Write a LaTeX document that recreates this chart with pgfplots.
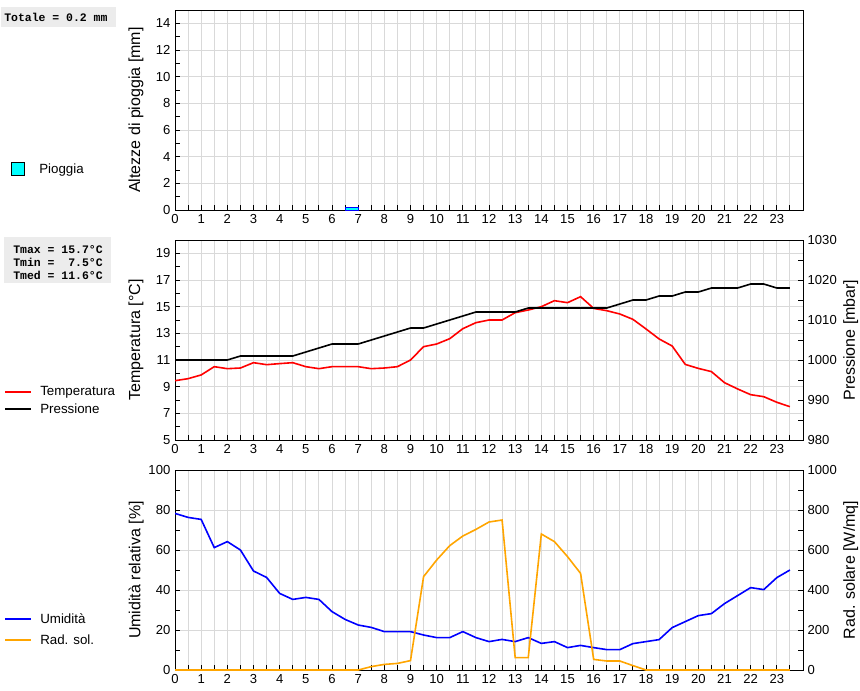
\documentclass[border=0pt]{standalone}
\usepackage{pgfplots}
\usepackage{pgfplotstable}
\pgfplotsset{compat=1.18}
\usepackage{fontspec}
\setmainfont{Liberation Sans}
\newfontfamily\boxfont{Liberation Mono}

\definecolor{gridgray}{RGB}{217,217,217}
\definecolor{boxgray}{RGB}{236,236,236}
\definecolor{solar}{RGB}{255,165,0}
\definecolor{rain}{RGB}{0,255,255}

% hour, temperature, pressure, humidity, solar radiation
\pgfplotstableread{
h     T      P     U     R
0     9.45   1000  78.3  0
0.5   9.6    1000  76.3  0
1     9.88   1000  75.3  0
1.5   10.5   1000  61.2  0
2     10.35  1000  64.2  0
2.5   10.4   1001  60.0  0
3     10.8   1001  49.5  0
3.5   10.65  1001  46.3  0
4     10.73  1001  38.3  0
4.5   10.8   1001  35.3  0
5     10.5   1002  36.3  0
5.5   10.35  1003  35.3  0
6     10.5   1004  29.2  0
6.5   10.5   1004  25.3  0
7     10.5   1004  22.5  0
7.5   10.35  1005  21.3  17
8     10.4   1006  19.2  28
8.5   10.5   1007  19.2  33
9     11.0   1008  19.2  47
9.5   12.0   1008  17.5  467
10    12.2   1009  16.2  550
10.5  12.6   1010  16.2  622
11    13.35  1011  19.2  670
11.5  13.8   1012  16.2  703
12    14.0   1012  14.2  740
12.5  14.0   1012  15.3  750
13    14.55  1012  14.2  62
13.5  14.75  1013  16.2  62
14    15.0   1013  13.3  680
14.5  15.45  1013  14.2  642
15    15.3   1013  11.2  567
15.5  15.75  1013  12.3  483
16    14.87  1013  11.2  53
16.5  14.7   1013  10.2  45
17    14.45  1014  10.2  45
17.5  14.05  1015  13.2  22
18    13.33  1015  14.2  0
18.5  12.58  1016  15.2  0
19    12.05  1016  21.2  0
19.5  10.67  1017  24.2  0
20    10.37  1017  27.2  0
20.5  10.13  1018  28.2  0
21    9.3    1018  33.2  0
21.5  8.83   1018  37.2  0
22    8.4    1019  41.2  0
22.5  8.25   1019  40.2  0
23    7.83   1018  46.2  0
23.5  7.5    1018  50.0  0
}\meteo

\pgfplotsset{
  panel/.style={
    scale only axis, width=471pt, height=150pt, anchor=south west,
    xmin=0, xmax=24,
    tick align=inside,
    major tick length=4pt, minor tick length=4pt,
    tick style={black, line width=0.75pt},
    axis line style={line width=0.75pt},
    ticklabel style={font=\fontsize{9.8}{10}\selectfont},
    /pgf/number format/assume math mode=true,
    /pgf/number format/1000 sep={},
  },
  leftpanel/.style={panel,
    xtick={0,...,23}, minor xtick={0.5,1.5,...,23.5},
    xmajorgrids, xminorgrids, ymajorgrids,
    grid style={gridgray, line width=0.75pt},
    minor grid style={gridgray, line width=0.75pt},
    xtick pos=left, ytick pos=left,
    every axis y label/.style={at={(axis description cs:-0.062,0.5)}, rotate=90,
      anchor=center, font=\fontsize{12}{13}\selectfont},
  },
  rightpanel/.style={panel,
    axis x line=none, axis y line*=right,
    every axis y label/.style={at={(axis description cs:1.076,0.5)}, rotate=90,
      anchor=center, font=\fontsize{12}{13}\selectfont},
  },
}

\begin{document}
\begin{tikzpicture}
\path[use as bounding box] (0,0) rectangle (645pt,-517.5pt);

% rain
\begin{axis}[leftpanel, at={(131.25pt,-157.5pt)},
  ymin=0, ymax=15, ytick={0,2,...,14}, minor ytick={1,3,...,15},
  ylabel={Altezze di pioggia [mm]}]
\addplot[fill=rain, draw=blue, line width=0.75pt] coordinates {(6.5,0.2) (7,0.2)} \closedcycle;
\end{axis}

% temperature and pressure
\begin{axis}[leftpanel, at={(131.25pt,-330pt)},
  ymin=5, ymax=20, ytick={5,7,...,19}, minor ytick={6,8,...,20},
  ylabel={Temperatura [°C]}]
\addplot[red, line width=1.2pt] table[x=h, y=T] {\meteo};
\end{axis}
\begin{axis}[rightpanel, at={(131.25pt,-330pt)},
  ymin=980, ymax=1030, ytick={980,990,...,1030}, minor ytick={985,995,...,1025},
  ylabel={Pressione [mbar]}]
\addplot[black, line width=1.2pt] table[x=h, y=P] {\meteo};
\end{axis}

% humidity and solar radiation
\begin{axis}[leftpanel, at={(131.25pt,-502.5pt)},
  ymin=0, ymax=100, ytick={0,20,...,100}, minor ytick={10,30,...,90},
  ylabel={Umidità relativa [\%]}]
\addplot[blue, line width=1.2pt] table[x=h, y=U] {\meteo};
\end{axis}
\begin{axis}[rightpanel, at={(131.25pt,-502.5pt)},
  ymin=0, ymax=1000, ytick={0,200,...,1000}, minor ytick={100,300,...,900},
  ylabel={Rad. solare [W/mq]}]
\addplot[solar, line width=1.2pt] table[x=h, y=R] {\meteo};
\end{axis}

% left-hand legends and summaries
\begin{scope}[x=0.75pt, y=-0.75pt,
  mono/.style={anchor=west, inner sep=0pt, font=\boxfont\bfseries\fontsize{8.6}{9}\selectfont},
  leg/.style={anchor=west, inner sep=0pt, font=\fontsize{10}{12}\selectfont}]
\fill[boxgray] (1,7) rectangle (116,27);
\node[mono] at (4,17) {Totale = 0.2 mm};
\filldraw[fill=rain, draw=black, line width=0.75pt] (11,162) rectangle (24,175);
\node[leg] at (39,170) {Pioggia};

\fill[boxgray] (4,237) rectangle (111,283);
\node[mono] at (13,249.5) {Tmax = 15.7°C};
\node[mono] at (13,262.5) {Tmin = \phantom{1}7.5°C};
\node[mono] at (13,275.5) {Tmed = 11.6°C};

\draw[red, line width=1.5pt] (5,392) -- (31,392);
\node[leg] at (40,392) {Temperatura};
\draw[black, line width=1.5pt] (5,408.5) -- (31,408.5);
\node[leg] at (40,408.5) {Pressione};

\draw[blue, line width=1.5pt] (5,618.5) -- (31,618.5);
\node[leg] at (40,619) {Umidità};
\draw[solar, line width=1.5pt] (5,639.5) -- (31,639.5);
\node[leg] at (40,640) {Rad. sol.};
\end{scope}
\end{tikzpicture}
\end{document}
